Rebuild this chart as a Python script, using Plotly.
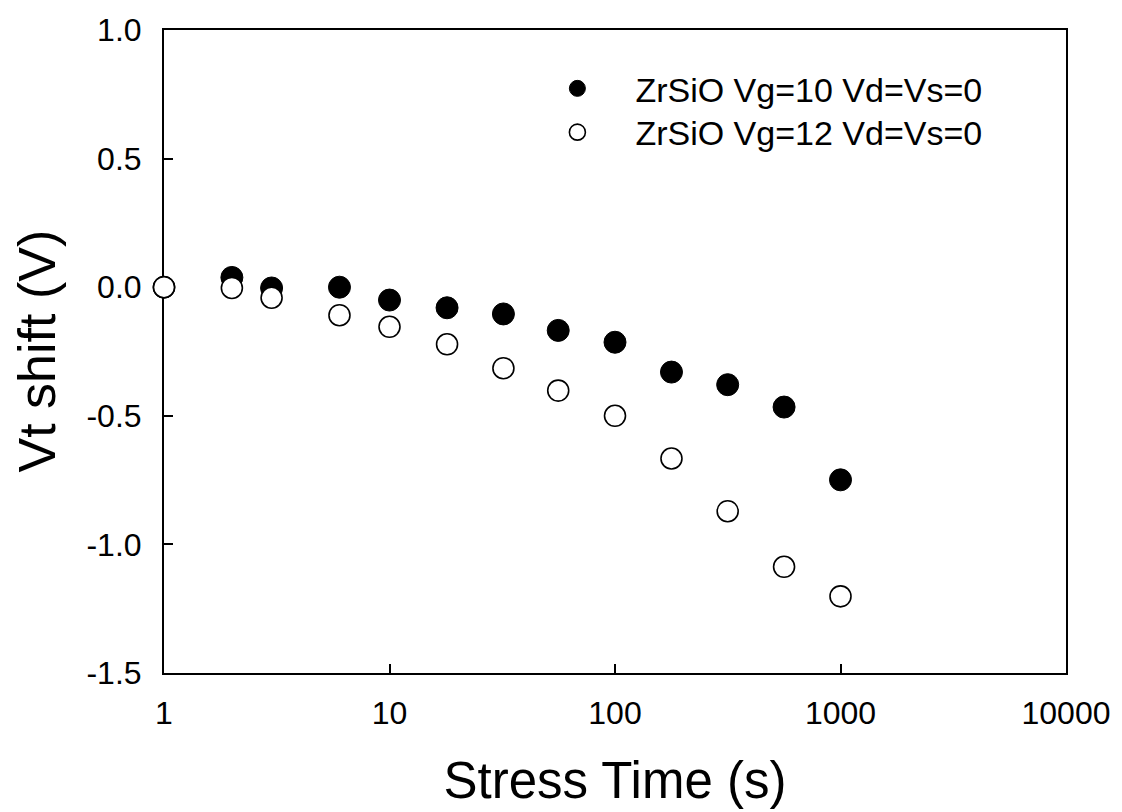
import plotly.graph_objects as go

stress_time = [1, 2, 3, 6, 10, 18, 32, 56, 100, 178, 316, 562, 1000]
vt_vg10 = [0.0, 0.038, -0.003, 0.0, -0.05, -0.08, -0.104, -0.168, -0.214, -0.33, -0.379, -0.466, -0.749]
vt_vg12 = [0.0, -0.003, -0.041, -0.109, -0.154, -0.222, -0.315, -0.402, -0.5, -0.666, -0.871, -1.087, -1.202]

name_vg10 = "ZrSiO Vg=10 Vd=Vs=0"
name_vg12 = "ZrSiO Vg=12 Vd=Vs=0"

x_ticks = [1, 10, 100, 1000, 10000]
x_ticklabels = ["1", "10", "100", "1000", "10000"]
y_ticks = [-1.5, -1.0, -0.5, 0.0, 0.5, 1.0]
y_ticklabels = ["-1.5", "-1.0", "-0.5", "0.0", "0.5", "1.0"]

FONT = "Liberation Sans, Arial, sans-serif"

fig = go.Figure()
fig.add_trace(go.Scatter(
    x=stress_time, y=vt_vg10, mode="markers", name=name_vg10, legend="legend",
    cliponaxis=False,
    marker=dict(symbol="circle", size=22, color="black", line=dict(color="black", width=1)),
))
fig.add_trace(go.Scatter(
    x=stress_time, y=vt_vg12, mode="markers", name=name_vg12, legend="legend2",
    cliponaxis=False,
    marker=dict(symbol="circle", size=21, color="white", line=dict(color="black", width=1.6)),
))

legend_common = dict(
    xanchor="left", yanchor="middle",
    font=dict(family=FONT, size=34, color="black"),
    bgcolor="rgba(0,0,0,0)", borderwidth=0,
    itemwidth=106, tracegroupgap=0,
)

fig.update_layout(
    width=1122, height=812,
    margin=dict(l=164, r=56, t=24, b=139),
    paper_bgcolor="white", plot_bgcolor="white",
    font=dict(family=FONT, color="black", size=32),
    showlegend=True,
    legend=dict(x=0.394, y=0.9086, **legend_common),
    legend2=dict(x=0.394, y=0.8405, **legend_common),
    xaxis=dict(
        type="log", range=[0, 4],
        tickvals=x_ticks, ticktext=x_ticklabels,
        ticks="inside", ticklen=9, tickwidth=1.5, tickcolor="black",
        showline=True, linecolor="black", linewidth=2, mirror=True,
        showgrid=False, zeroline=False, layer="below traces",
        tickfont=dict(family=FONT, size=32, color="black"),
        ticklabelstandoff=11,
        title=dict(text="Stress Time (s)", font=dict(family=FONT, size=51, color="black"), standoff=32),
    ),
    yaxis=dict(
        range=[-1.5, 1.0],
        tickvals=y_ticks, ticktext=y_ticklabels,
        ticks="inside", ticklen=9, tickwidth=1.5, tickcolor="black",
        showline=True, linecolor="black", linewidth=2, mirror=True,
        showgrid=False, zeroline=False, layer="below traces",
        tickfont=dict(family=FONT, size=32, color="black"),
        ticklabelstandoff=14,
    ),
    annotations=[dict(
        text="Vt shift (V)", textangle=-90,
        xref="paper", yref="paper", x=0, y=0.5,
        xanchor="center", yanchor="middle",
        xshift=-128, yshift=0,
        showarrow=False,
        font=dict(family=FONT, size=52, color="black"),
    )],
)

fig.write_html("out.html")
